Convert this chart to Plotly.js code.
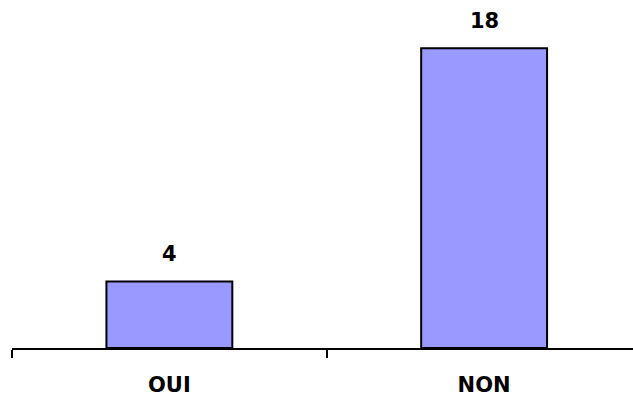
<!DOCTYPE html>
<html>
<head>
<meta charset="utf-8">
<script src="https://cdn.plot.ly/plotly-3.0.1.min.js"></script>
<style>html,body{margin:0;padding:0;background:#fff;}#chart{width:633px;height:399px;}</style>
</head>
<body>
<div id="chart"></div>
<script>
const categories = ["OUI", "NON"];
const values = [4, 18];
const valueLabels = ["4", "18"];

const font = {family: "DejaVu Sans, Liberation Sans, Arial, sans-serif", size: 21, color: "#000", weight: "bold"};

const trace = {
  type: "bar",
  x: categories,
  y: values,
  width: 0.4,
  marker: {color: "#9999FF", line: {color: "#000", width: 2}},
  hoverinfo: "none"
};

const annotations = categories.map((c, i) => ({
  x: c, y: values[i], text: valueLabels[i], showarrow: false,
  yshift: 27, font: font, xanchor: "center", yanchor: "middle"
}));

const layout = {
  width: 633, height: 399,
  margin: {l: 12, r: 0, t: 15, b: 51, pad: 0},
  paper_bgcolor: "#fff", plot_bgcolor: "#fff",
  showlegend: false,
  xaxis: {
    type: "category",
    range: [-0.5, 1.473],
    showline: true, linecolor: "#000", linewidth: 2,
    ticks: "outside", tickson: "boundaries", ticklen: 8, tickwidth: 2, tickcolor: "#000",
    showgrid: false, zeroline: false,
    tickfont: font,
    ticklabelstandoff: 17
  },
  yaxis: {
    range: [0, 20], visible: false, showgrid: false, zeroline: false
  },
  annotations: annotations
};

Plotly.newPlot("chart", [trace], layout, {staticPlot: true, displayModeBar: false});
</script>
</body>
</html>
